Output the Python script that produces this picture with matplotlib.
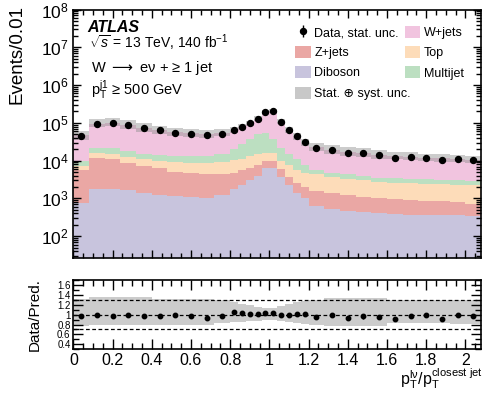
import numpy as np
import matplotlib
matplotlib.use('Agg')
import matplotlib.pyplot as plt
from matplotlib.ticker import MultipleLocator, LogLocator, NullFormatter, FuncFormatter
from matplotlib.patches import Patch

plt.rcParams['font.family'] = ['Liberation Sans', 'DejaVu Sans']
plt.rcParams['mathtext.fontset'] = 'custom'
plt.rcParams['mathtext.rm'] = 'Liberation Sans'
plt.rcParams['mathtext.it'] = 'Liberation Sans:italic'
plt.rcParams['mathtext.bf'] = 'Liberation Sans:bold'
plt.rcParams['mathtext.sf'] = 'Liberation Sans'

# binning (variable width)
bin_edges = [0.0, 0.08, 0.16, 0.24, 0.32, 0.40, 0.48, 0.56, 0.64, 0.72,
             0.80, 0.84, 0.88, 0.92, 0.96, 1.00, 1.04, 1.08, 1.12, 1.16,
             1.20, 1.28, 1.36, 1.44, 1.52, 1.60, 1.68, 1.76, 1.84, 1.92, 2.00, 2.08]

# stacked predictions, bottom to top
diboson = [775, 1740, 1820, 1630, 1370, 1200, 1150, 1100, 1050, 1250,
           1740, 2230, 3100, 3900, 6300, 6300, 3800, 2230, 1410, 1050,
           630, 540, 470, 440, 420, 380, 355, 370, 355, 355, 340]
zjets = [4725, 10260, 9480, 7270, 5830, 5100, 3850, 3500, 3250, 3150,
         2860, 3370, 3400, 3700, 3700, 3700, 2100, 1570, 1190, 1000,
         940, 820, 730, 660, 630, 570, 565, 490, 475, 425, 390]
top = [1700, 3600, 3600, 3800, 4100, 3700, 4400, 4300, 4600, 4800,
       5800, 5700, 6700, 7100, 6300, 5800, 3900, 3800, 3000, 2750,
       2780, 2440, 2100, 2000, 1650, 1650, 1630, 1540, 1520, 1470, 1470]
multijet = [2600, 5900, 6800, 5700, 4100, 4000, 4000, 4300, 4300, 5800,
            10400, 15700, 24800, 35300, 36500, 22200, 11900, 7100, 5200, 3100,
            1250, 1000, 1000, 800, 850, 950, 750, 850, 750, 800, 700]
wjets = [36600, 73500, 79300, 68500, 57000, 51000, 42200, 40400, 37300, 38600,
         41100, 48500, 58000, 77700, 139200, 165000, 85300, 48900, 32800, 22100,
         17200, 14200, 12800, 12500, 10950, 9750, 9500, 8450, 8300, 7850, 7500]

# relative total uncertainty (up / down)
unc_up = [0.31, 0.35, 0.35, 0.35, 0.35, 0.31, 0.31, 0.31, 0.31, 0.30,
          0.25, 0.22, 0.19, 0.16, 0.13, 0.13, 0.17, 0.21, 0.25, 0.28,
          0.30, 0.33, 0.33, 0.33, 0.33, 0.30, 0.30, 0.30, 0.30, 0.29, 0.29]
unc_down = [0.23, 0.20, 0.20, 0.20, 0.20, 0.20, 0.20, 0.20, 0.20, 0.17,
            0.15, 0.14, 0.13, 0.12, 0.10, 0.10, 0.13, 0.15, 0.17, 0.19,
            0.21, 0.23, 0.23, 0.23, 0.23, 0.17, 0.17, 0.17, 0.17, 0.18, 0.18]

data = [45000, 95000, 98000, 86000, 71000, 63000, 55000, 52000, 47500, 52000,
        65000, 77500, 97000, 129000, 198000, 208000, 107000, 63000, 44000, 30500,
        21700, 18800, 15900, 15900, 13800, 12000, 12500, 11500, 10400, 10800, 10200]
data_err = [600, 900, 900, 850, 800, 750, 700, 700, 700, 700,
            900, 1000, 1100, 1300, 1600, 1600, 1200, 900, 750, 600,
            400, 350, 350, 800, 350, 300, 300, 300, 300, 350, 300]

colors = {'Diboson': '#c8c4dd', 'Z+jets': '#eaa7a4', 'Top': '#fddcb9',
          'Multijet': '#bcdfc1', 'W+jets': '#f1c4df'}

edges = np.array(bin_edges)
centers = 0.5 * (edges[1:] + edges[:-1])
stack = [('Diboson', diboson), ('Z+jets', zjets), ('Top', top),
         ('Multijet', multijet), ('W+jets', wjets)]
total = np.sum([np.array(v, float) for _, v in stack], axis=0)
data = np.array(data, float)
data_err = np.array(data_err, float)
up = total * (1 + np.array(unc_up))
down = total * (1 - np.array(unc_down))

fig = plt.figure(figsize=(4.84, 4.03), dpi=100)
ax = fig.add_axes([0.1515, 0.359, 0.8425, 0.6174])
rax = fig.add_axes([0.1515, 0.1333, 0.8425, 0.1719])

base = np.ones(len(total))
handles = {}
for name, vals in stack:
    topv = base + np.array(vals, float)
    ax.stairs(topv, edges, baseline=base, fill=True, color=colors[name], lw=0)
    handles[name] = Patch(facecolor=colors[name], edgecolor='none')
    base = topv

band_col = '#8f8f8f'
ax.stairs(up, edges, baseline=down, fill=True, color=band_col, alpha=0.45, lw=0)
h_data = ax.errorbar(centers, data, yerr=data_err, fmt='o', color='black',
                     ms=4.3, elinewidth=1.0, capsize=0)

ax.set_yscale('log')
ax.set_xlim(0, 2.08)
ax.set_ylim(26, 1e8)
ax.xaxis.set_major_locator(MultipleLocator(0.2))
ax.xaxis.set_minor_locator(MultipleLocator(0.05))
ax.yaxis.set_major_locator(LogLocator(base=10, numticks=20))
ax.yaxis.set_minor_locator(LogLocator(base=10, subs=np.arange(2, 10), numticks=20))
ax.yaxis.set_minor_formatter(NullFormatter())
ax.tick_params(which='both', direction='in', top=True, right=True, labelbottom=False)
ax.tick_params(which='major', length=6, width=1)
ax.tick_params(which='minor', length=3.5, width=1)
ax.tick_params(axis='y', labelsize=12.5)
ax.set_ylabel('Events/0.01', fontsize=13.5, loc='top')
ax.yaxis.set_label_coords(-0.118, 1.018)
for s in ax.spines.values():
    s.set_linewidth(1.2)

# ratio panel
ratio = data / total
ratio_err = data_err / total
rax.stairs(1 + np.array(unc_up), edges, baseline=1 - np.array(unc_down),
           fill=True, color=band_col, alpha=0.45, lw=0)
for yv in [0.7, 1.0, 1.3]:
    rax.axhline(yv, color='black', lw=0.9, ls=(0, (3, 2)))
rax.errorbar(centers, ratio, yerr=ratio_err, fmt='o', color='black',
             ms=3.2, elinewidth=1.0, capsize=0)
rax.set_xlim(0, 2.08)
rax.set_ylim(0.3, 1.7)
rax.xaxis.set_major_locator(MultipleLocator(0.2))
rax.xaxis.set_minor_locator(MultipleLocator(0.05))
rax.yaxis.set_major_locator(MultipleLocator(0.2))
rax.yaxis.set_minor_locator(MultipleLocator(0.1))
fmt = FuncFormatter(lambda v, p: '%g' % round(v, 2))
rax.xaxis.set_major_formatter(fmt)
rax.yaxis.set_major_formatter(fmt)
rax.tick_params(which='both', direction='in', top=True, right=True)
rax.tick_params(which='major', length=7, width=1)
rax.tick_params(which='minor', length=4, width=1)
rax.tick_params(axis='x', labelsize=11.5, pad=3)
rax.tick_params(axis='y', labelsize=7, pad=2)
rax.set_ylabel('Data/Pred.', fontsize=11)
rax.yaxis.set_label_coords(-0.0775, 0.5)
rax.set_xlabel(r'$\mathrm{p}_{\mathrm{T}}^{\mathrm{l\nu}}/\mathrm{p}_{\mathrm{T}}^{\mathrm{closest\ jet}}$',
               fontsize=11.5, loc='right')
rax.xaxis.set_label_coords(1.005, -0.24)
for s in rax.spines.values():
    s.set_linewidth(1.2)

# labels
W = 484.0
H = 403.0
fig.text(87 / W, 1 - 27 / H, 'ATLAS', fontsize=11.5, fontweight='bold',
         style='italic', va='center')
fig.text(89 / W, 1 - 43 / H, r'$\sqrt{s}$ = 13 TeV, 140 fb$^{-1}$', fontsize=10, va='center')
fig.text(91 / W, 1 - 68 / H, 'W $\\longrightarrow$ e\u03bd + \u2265 1 jet', fontsize=10.5,
         va='center', math_fontfamily='dejavusans')
fig.text(91 / W, 1 - 90 / H, r'$\mathrm{p}_{\mathrm{T}}^{\mathrm{j1}}$' + ' \u2265 500 GeV',
         fontsize=10.5, va='center')

leg1 = ax.legend([h_data, handles['Z+jets'], handles['Diboson'],
                  handles['W+jets'], handles['Top'], handles['Multijet']],
                 ['Data, stat. unc.', 'Z+jets', 'Diboson', 'W+jets', 'Top', 'Multijet'],
                 ncol=2, frameon=False, fontsize=9, handlelength=1.25, handleheight=1.1,
                 handletextpad=0.3, labelspacing=0.55, columnspacing=0.45,
                 borderpad=0, borderaxespad=0, loc='upper left',
                 bbox_to_anchor=(295 / W, 1 - 26 / H), bbox_transform=fig.transFigure)
ax.add_artist(leg1)
band_handle = Patch(facecolor='#c8c8c8', edgecolor='none')
ax.legend([band_handle], ['Stat. \u2295 syst. unc.'], frameon=False, fontsize=9,
          handlelength=1.25, handleheight=1.1, handletextpad=0.3, borderpad=0,
          borderaxespad=0, loc='upper left',
          bbox_to_anchor=(295 / W, 1 - 87 / H), bbox_transform=fig.transFigure)

fig.savefig('out.png', dpi=100)
